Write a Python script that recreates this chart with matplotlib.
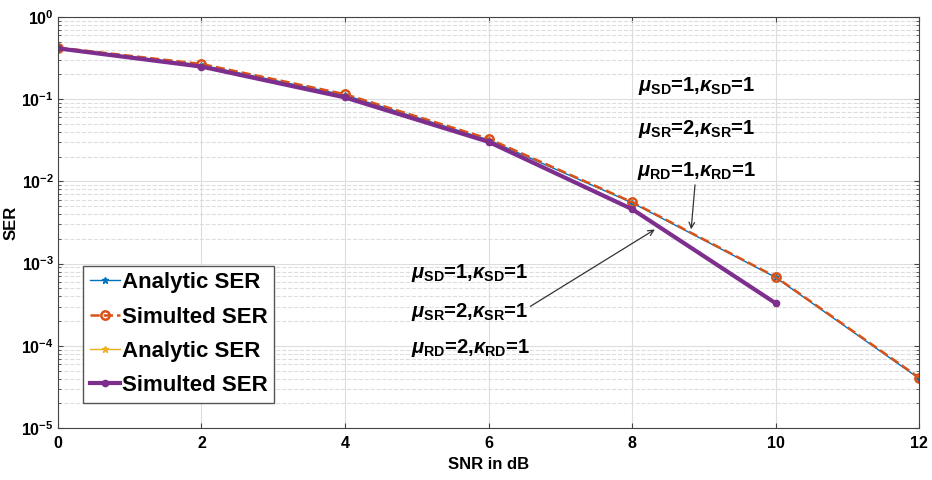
import numpy as np
import matplotlib
matplotlib.use('Agg')
import matplotlib.pyplot as plt

plt.rcParams['font.family'] = ['Liberation Sans', 'DejaVu Sans']
plt.rcParams['font.weight'] = 'bold'
plt.rcParams['mathtext.fontset'] = 'custom'
plt.rcParams['mathtext.rm'] = 'Liberation Sans:bold'
plt.rcParams['mathtext.bf'] = 'Liberation Sans:bold'
plt.rcParams['mathtext.it'] = 'Liberation Sans:italic:bold'

# SNR points and SER curves
snr1 = [0, 2, 4, 6, 8, 10, 12]
analytic1 = [0.42, 0.26, 0.112, 0.032, 0.0055, 0.00068, 0.000040]
simulated1 = [0.425, 0.268, 0.115, 0.033, 0.0056, 0.00069, 0.000041]
snr2 = [0, 2, 4, 6, 8, 10]
analytic2 = [0.415, 0.25, 0.106, 0.0305, 0.0047, 0.00033]
simulated2 = [0.415, 0.249, 0.105, 0.0303, 0.0046, 0.00033]

labels = ['Analytic SER', 'Simulted SER', 'Analytic SER', 'Simulted SER']
upper_txt = [r'$\mu_{\mathrm{SD}}$=1,$\kappa_{\mathrm{SD}}$=1',
             r'$\mu_{\mathrm{SR}}$=2,$\kappa_{\mathrm{SR}}$=1',
             r'$\mu_{\mathrm{RD}}$=1,$\kappa_{\mathrm{RD}}$=1']
lower_txt = [r'$\mu_{\mathrm{SD}}$=1,$\kappa_{\mathrm{SD}}$=1',
             r'$\mu_{\mathrm{SR}}$=2,$\kappa_{\mathrm{SR}}$=1',
             r'$\mu_{\mathrm{RD}}$=2,$\kappa_{\mathrm{RD}}$=1']

fig = plt.figure(figsize=(9.32, 4.8), dpi=100)
ax = fig.add_axes([0.0622, 0.1083, 0.924, 0.8563])

ax.semilogy(snr1, analytic1, '-*', color='#0072BD', lw=1, ms=5, label=labels[0])
ax.semilogy(snr1, simulated1, '--o', color='#D95319', lw=1.8, ms=6, mfc='none', mew=1.8, label=labels[1])
ax.semilogy(snr2, analytic2, '-*', color='#EDB120', lw=1, ms=5, label=labels[2])
ax.semilogy(snr2, simulated2, '-o', color='#7E2F8E', lw=3, ms=4.5, label=labels[3])

ax.set_xlim(0, 12)
ax.set_ylim(1e-5, 1)
ax.set_xticks(range(0, 13, 2))
ax.set_yticks([1e-5, 1e-4, 1e-3, 1e-2, 1e-1, 1])
ax.set_yticklabels([r'$\mathbf{10^{-5}}$', r'$\mathbf{10^{-4}}$', r'$\mathbf{10^{-3}}$',
                    r'$\mathbf{10^{-2}}$', r'$\mathbf{10^{-1}}$', r'$\mathbf{10^{0}}$'])
ax.grid(True, which='major', color='#dddddd', lw=0.8)
ax.grid(True, which='minor', axis='y', color='#dddddd', lw=0.8, ls='--')
ax.tick_params(which='both', direction='in', top=True, right=True, labelsize=11.5, color='#444444')
ax.tick_params(axis='x', pad=6)
ax.tick_params(axis='y', pad=3)
for s in ax.spines.values():
    s.set_color('#444444')
ax.set_xlabel('SNR in dB', fontsize=12, fontweight='bold', labelpad=4)
ax.set_ylabel('SER', fontsize=12, fontweight='bold', labelpad=2)

leg = ax.legend(loc='lower left', bbox_to_anchor=(0.029, 0.061), fontsize=16, handlelength=1.35,
                handletextpad=0.1, borderpad=0.3, labelspacing=0.6, fancybox=False,
                edgecolor='#555555', framealpha=1, borderaxespad=0)
for t in leg.get_texts():
    t.set_fontweight('bold')

ys_up = [0.144, 0.044, 0.0132]
for t, yv in zip(upper_txt, ys_up):
    ax.text(8.9, yv, t, fontsize=14.5, ha='center', va='center')
ax.annotate('', xy=(8.82, 0.00242), xytext=(8.88, 0.0098),
            arrowprops=dict(arrowstyle='->', color='#333333', lw=0.9))

ys_lo = [0.00076, 0.00026, 0.000094]
for t, yv in zip(lower_txt, ys_lo):
    ax.text(5.74, yv, t, fontsize=14.5, ha='center', va='center')
ax.annotate('', xy=(8.35, 0.00271), xytext=(6.55, 0.00029),
            arrowprops=dict(arrowstyle='->', color='#333333', lw=0.9))

fig.savefig('out.png', dpi=100)
